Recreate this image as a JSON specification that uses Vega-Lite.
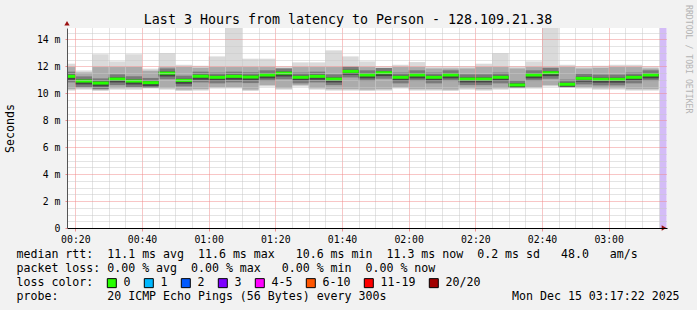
{
  "$schema": "https://vega.github.io/schema/vega-lite/v6.json",
  "autosize": {"type": "none"},
  "width": 600,
  "height": 200,
  "padding": {"left": 67, "top": 28, "right": 30, "bottom": 82},
  "background": "#f2f2f2",
  "view": {"fill": "white", "stroke": null},
  "title": {
    "text": "Last 3 Hours from latency to Person - 128.109.21.38",
    "font": "DejaVu Sans Mono",
    "fontSize": 13.3,
    "fontWeight": "normal",
    "color": "black",
    "anchor": "middle",
    "frame": "group",
    "baseline": "alphabetic",
    "dx": -19,
    "offset": -32.5
  },
  "datasets": {
    "smoke": [
      {"t":"2025-12-15T00:15:00Z","t2":"2025-12-15T00:20:00Z","loss":"0","med":11.26,"lo":10.2,"hi":12.2,"b1":10.3,"b2":11.95,"c1":10.81,"c2":11.61,"d1":11.01,"d2":11.38},
      {"t":"2025-12-15T00:20:00Z","t2":"2025-12-15T00:25:00Z","loss":"0","med":10.91,"lo":10.27,"hi":11.7,"b1":10.37,"b2":11.55,"c1":10.46,"c2":11.26,"d1":10.66,"d2":11.03},
      {"t":"2025-12-15T00:25:00Z","t2":"2025-12-15T00:30:00Z","loss":"0","med":10.76,"lo":10.17,"hi":12.9,"b1":10.27,"b2":11.95,"c1":10.31,"c2":11.11,"d1":10.51,"d2":10.88},
      {"t":"2025-12-15T00:30:00Z","t2":"2025-12-15T00:35:00Z","loss":"0","med":11.06,"lo":10.27,"hi":12.37,"b1":10.37,"b2":11.95,"c1":10.61,"c2":11.41,"d1":10.81,"d2":11.18},
      {"t":"2025-12-15T00:35:00Z","t2":"2025-12-15T00:40:00Z","loss":"0","med":10.91,"lo":10.27,"hi":12.9,"b1":10.37,"b2":11.95,"c1":10.46,"c2":11.26,"d1":10.66,"d2":11.03},
      {"t":"2025-12-15T00:40:00Z","t2":"2025-12-15T00:45:00Z","loss":"0","med":10.79,"lo":10.35,"hi":11.83,"b1":10.45,"b2":11.68,"c1":10.4,"c2":11.14,"d1":10.54,"d2":10.91},
      {"t":"2025-12-15T00:45:00Z","t2":"2025-12-15T00:50:00Z","loss":"0","med":11.5,"lo":10.27,"hi":12.99,"b1":10.37,"b2":11.95,"c1":11.05,"c2":11.85,"d1":11.25,"d2":11.62},
      {"t":"2025-12-15T00:50:00Z","t2":"2025-12-15T00:55:00Z","loss":"0","med":10.96,"lo":10.17,"hi":12.12,"b1":10.27,"b2":11.95,"c1":10.51,"c2":11.31,"d1":10.71,"d2":11.08},
      {"t":"2025-12-15T00:55:00Z","t2":"2025-12-15T01:00:00Z","loss":"0","med":11.26,"lo":10.2,"hi":12.05,"b1":10.3,"b2":11.9,"c1":10.81,"c2":11.61,"d1":11.01,"d2":11.38},
      {"t":"2025-12-15T01:00:00Z","t2":"2025-12-15T01:05:00Z","loss":"0","med":11.19,"lo":10.35,"hi":12.74,"b1":10.45,"b2":11.95,"c1":10.74,"c2":11.54,"d1":10.94,"d2":11.31},
      {"t":"2025-12-15T01:05:00Z","t2":"2025-12-15T01:10:00Z","loss":"0","med":11.26,"lo":10.35,"hi":14.85,"b1":10.45,"b2":11.95,"c1":10.81,"c2":11.61,"d1":11.01,"d2":11.38},
      {"t":"2025-12-15T01:10:00Z","t2":"2025-12-15T01:15:00Z","loss":"0","med":11.21,"lo":10.17,"hi":12.57,"b1":10.27,"b2":11.95,"c1":10.76,"c2":11.56,"d1":10.96,"d2":11.33},
      {"t":"2025-12-15T01:15:00Z","t2":"2025-12-15T01:20:00Z","loss":"0","med":11.36,"lo":10.5,"hi":12.57,"b1":10.6,"b2":11.95,"c1":10.91,"c2":11.71,"d1":11.11,"d2":11.48},
      {"t":"2025-12-15T01:20:00Z","t2":"2025-12-15T01:25:00Z","loss":"0","med":11.5,"lo":10.27,"hi":12.0,"b1":10.37,"b2":11.85,"c1":11.05,"c2":11.85,"d1":11.25,"d2":11.62},
      {"t":"2025-12-15T01:25:00Z","t2":"2025-12-15T01:30:00Z","loss":"0","med":11.19,"lo":10.5,"hi":12.3,"b1":10.6,"b2":11.95,"c1":10.74,"c2":11.54,"d1":10.94,"d2":11.31},
      {"t":"2025-12-15T01:30:00Z","t2":"2025-12-15T01:35:00Z","loss":"0","med":11.26,"lo":10.27,"hi":12.3,"b1":10.37,"b2":11.95,"c1":10.81,"c2":11.61,"d1":11.01,"d2":11.38},
      {"t":"2025-12-15T01:35:00Z","t2":"2025-12-15T01:40:00Z","loss":"0","med":11.06,"lo":10.2,"hi":13.19,"b1":10.3,"b2":11.95,"c1":10.61,"c2":11.41,"d1":10.81,"d2":11.18},
      {"t":"2025-12-15T01:40:00Z","t2":"2025-12-15T01:45:00Z","loss":"0","med":11.63,"lo":10.2,"hi":12.74,"b1":10.3,"b2":11.95,"c1":11.18,"c2":11.98,"d1":11.38,"d2":11.75},
      {"t":"2025-12-15T01:45:00Z","t2":"2025-12-15T01:50:00Z","loss":"0","med":11.36,"lo":10.17,"hi":12.37,"b1":10.27,"b2":11.95,"c1":10.91,"c2":11.71,"d1":11.11,"d2":11.48},
      {"t":"2025-12-15T01:50:00Z","t2":"2025-12-15T01:55:00Z","loss":"0","med":11.53,"lo":10.2,"hi":12.0,"b1":10.3,"b2":11.85,"c1":11.08,"c2":11.88,"d1":11.28,"d2":11.65},
      {"t":"2025-12-15T01:55:00Z","t2":"2025-12-15T02:00:00Z","loss":"0","med":11.19,"lo":10.35,"hi":12.12,"b1":10.45,"b2":11.95,"c1":10.74,"c2":11.54,"d1":10.94,"d2":11.31},
      {"t":"2025-12-15T02:00:00Z","t2":"2025-12-15T02:05:00Z","loss":"0","med":11.36,"lo":10.2,"hi":12.32,"b1":10.3,"b2":11.95,"c1":10.91,"c2":11.71,"d1":11.11,"d2":11.48},
      {"t":"2025-12-15T02:05:00Z","t2":"2025-12-15T02:10:00Z","loss":"0","med":11.19,"lo":10.2,"hi":12.0,"b1":10.3,"b2":11.85,"c1":10.74,"c2":11.54,"d1":10.94,"d2":11.31},
      {"t":"2025-12-15T02:10:00Z","t2":"2025-12-15T02:15:00Z","loss":"0","med":11.36,"lo":10.17,"hi":12.0,"b1":10.27,"b2":11.85,"c1":10.91,"c2":11.71,"d1":11.11,"d2":11.48},
      {"t":"2025-12-15T02:15:00Z","t2":"2025-12-15T02:20:00Z","loss":"0","med":11.06,"lo":10.27,"hi":12.0,"b1":10.37,"b2":11.85,"c1":10.61,"c2":11.41,"d1":10.81,"d2":11.18},
      {"t":"2025-12-15T02:20:00Z","t2":"2025-12-15T02:25:00Z","loss":"0","med":11.06,"lo":10.2,"hi":12.2,"b1":10.3,"b2":11.95,"c1":10.61,"c2":11.41,"d1":10.81,"d2":11.18},
      {"t":"2025-12-15T02:25:00Z","t2":"2025-12-15T02:30:00Z","loss":"0","med":11.19,"lo":10.27,"hi":12.99,"b1":10.37,"b2":11.95,"c1":10.74,"c2":11.54,"d1":10.94,"d2":11.31},
      {"t":"2025-12-15T02:30:00Z","t2":"2025-12-15T02:35:00Z","loss":"0","med":10.62,"lo":10.35,"hi":12.0,"b1":10.45,"b2":11.85,"c1":10.4,"c2":10.97,"d1":10.45,"d2":10.74},
      {"t":"2025-12-15T02:35:00Z","t2":"2025-12-15T02:40:00Z","loss":"0","med":11.36,"lo":10.35,"hi":12.37,"b1":10.45,"b2":11.95,"c1":10.91,"c2":11.71,"d1":11.11,"d2":11.48},
      {"t":"2025-12-15T02:40:00Z","t2":"2025-12-15T02:45:00Z","loss":"0","med":11.53,"lo":10.5,"hi":14.85,"b1":10.6,"b2":11.95,"c1":11.08,"c2":11.88,"d1":11.28,"d2":11.65},
      {"t":"2025-12-15T02:45:00Z","t2":"2025-12-15T02:50:00Z","loss":"0","med":10.67,"lo":10.42,"hi":12.12,"b1":10.5,"b2":11.95,"c1":10.45,"c2":11.02,"d1":10.5,"d2":10.79},
      {"t":"2025-12-15T02:50:00Z","t2":"2025-12-15T02:55:00Z","loss":"0","med":11.11,"lo":10.35,"hi":12.0,"b1":10.45,"b2":11.85,"c1":10.66,"c2":11.46,"d1":10.86,"d2":11.23},
      {"t":"2025-12-15T02:55:00Z","t2":"2025-12-15T03:00:00Z","loss":"0","med":11.04,"lo":10.27,"hi":12.05,"b1":10.37,"b2":11.9,"c1":10.59,"c2":11.39,"d1":10.79,"d2":11.16},
      {"t":"2025-12-15T03:00:00Z","t2":"2025-12-15T03:05:00Z","loss":"0","med":11.04,"lo":10.27,"hi":12.12,"b1":10.37,"b2":11.95,"c1":10.59,"c2":11.39,"d1":10.79,"d2":11.16},
      {"t":"2025-12-15T03:05:00Z","t2":"2025-12-15T03:10:00Z","loss":"0","med":11.19,"lo":10.2,"hi":12.12,"b1":10.3,"b2":11.95,"c1":10.74,"c2":11.54,"d1":10.94,"d2":11.31},
      {"t":"2025-12-15T03:10:00Z","t2":"2025-12-15T03:15:00Z","loss":"0","med":11.36,"lo":10.2,"hi":12.0,"b1":10.3,"b2":11.85,"c1":10.91,"c2":11.71,"d1":11.11,"d2":11.48}
    ],
    "nodata": [
      {"t":"2025-12-15T03:15:20Z","t2":"2025-12-15T03:17:22Z"}
    ]
  },
  "layer": [
    {
      "data": {"name": "smoke"},
      "mark": {"type": "rect", "color": "#dadada", "clip": true},
      "encoding": {
        "x": {
          "field": "t", "type": "temporal",
          "scale": {"type": "utc", "domain": [{"year": 2025, "month": 12, "date": 15, "hours": 0, "minutes": 17, "seconds": 30, "utc": true}, {"year": 2025, "month": 12, "date": 15, "hours": 3, "minutes": 17, "seconds": 30, "utc": true}]},
          "axis": {
            "orient": "bottom", "zindex": 1, "tickCount": 200,
            "values": [1765758000000, 1765758300000, 1765758600000, 1765758900000, 1765759200000, 1765759500000, 1765759800000, 1765760100000, 1765760400000, 1765760700000, 1765761000000, 1765761300000, 1765761600000, 1765761900000, 1765762200000, 1765762500000, 1765762800000, 1765763100000, 1765763400000, 1765763700000, 1765764000000, 1765764300000, 1765764600000, 1765764900000, 1765765200000, 1765765500000, 1765765800000, 1765766100000, 1765766400000, 1765766700000, 1765767000000, 1765767300000, 1765767600000, 1765767900000, 1765768200000, 1765768500000],
            "labelExpr": "utcminutes(datum.value) % 20 == 0 ? utcFormat(datum.value, '%H:%M') : ''",
            "labelFont": "DejaVu Sans Mono", "labelFontSize": 9.8, "labelColor": "black",
            "labelPadding": 3, "labelFlush": false, "labelOverlap": false,
            "ticks": true, "tickSize": 3,
            "tickColor": {"condition": {"test": "utcminutes(datum.value) % 20 == 0", "value": "#f08c8c"}, "value": "#c0c0c0"},
            "tickOpacity": {"condition": {"test": "utcminutes(datum.value) % 20 == 0", "value": 1}, "value": 0},
            "domain": true, "domainColor": "black", "domainWidth": 1,
            "grid": true, "gridDash": [1, 1], "gridWidth": 1,
            "gridColor": {"condition": {"test": "utcminutes(datum.value) % 20 == 0", "value": "#f08c8c"}, "value": "#c8c8c8"},
            "title": [
              "median\u00a0rtt:\u00a0\u00a011.1\u00a0ms\u00a0avg\u00a0\u00a011.6\u00a0ms\u00a0max\u00a0\u00a0\u00a010.6\u00a0ms\u00a0min\u00a0\u00a011.3\u00a0ms\u00a0now\u00a0\u00a00.2\u00a0ms\u00a0sd\u00a0\u00a0\u00a048.0\u00a0\u00a0\u00a0am/s",
              "packet\u00a0loss:\u00a00.00\u00a0%\u00a0avg\u00a0\u00a00.00\u00a0%\u00a0max\u00a0\u00a0\u00a00.00\u00a0%\u00a0min\u00a0\u00a00.00\u00a0%\u00a0now",
              "loss\u00a0color:",
              "probe:\u00a0\u00a0\u00a0\u00a0\u00a0\u00a0\u00a020\u00a0ICMP\u00a0Echo\u00a0Pings\u00a0(56\u00a0Bytes)\u00a0every\u00a0300s\u00a0\u00a0\u00a0\u00a0\u00a0\u00a0\u00a0\u00a0\u00a0\u00a0\u00a0\u00a0\u00a0\u00a0\u00a0\u00a0\u00a0\u00a0Mon\u00a0Dec\u00a015\u00a003:17:22\u00a02025"
            ],
            "titleFont": "DejaVu Sans Mono", "titleFontSize": 11.6, "titleFontWeight": "normal", "titleColor": "black",
            "titleAlign": "left", "titleBaseline": "top", "titleLineHeight": 14,
            "titleX": -51, "titleY": 20
          }
        },
        "x2": {"field": "t2"},
        "y": {
          "field": "lo", "type": "quantitative",
          "scale": {"domain": [0, 14.85], "nice": false, "zero": true},
          "axis": {
            "orient": "left", "zindex": 1, "tickCount": 200,
            "values": [0, 0.5, 1, 1.5, 2, 2.5, 3, 3.5, 4, 4.5, 5, 5.5, 6, 6.5, 7, 7.5, 8, 8.5, 9, 9.5, 10, 10.5, 11, 11.5, 12, 12.5, 13, 13.5, 14, 14.5],
            "labelExpr": "datum.value % 2 == 0 ? (datum.value == 0 ? '0' : datum.value + ' m') : ''",
            "labelFont": "DejaVu Sans Mono", "labelFontSize": 9.8, "labelColor": "black", "labelPadding": 5, "labelOverlap": false,
            "ticks": true, "tickSize": 2,
            "tickColor": {"condition": {"test": "datum.value % 2 == 0", "value": "#f08c8c"}, "value": "#c0c0c0"},
            "tickOpacity": {"condition": {"test": "datum.value % 2 == 0", "value": 1}, "value": 0},
            "domain": true, "domainColor": "#555555", "domainWidth": 1,
            "grid": true, "gridDash": [1, 1], "gridWidth": 1,
            "gridColor": {"condition": {"test": "datum.value % 2 == 0", "value": "#f08c8c"}, "value": "#c8c8c8"},
            "title": "Seconds",
            "titleFont": "DejaVu Sans Mono", "titleFontSize": 11.6, "titleFontWeight": "normal", "titleColor": "black",
            "titleAngle": 270, "titleAlign": "center", "titleBaseline": "middle",
            "titleX": -57, "titleY": 100
          }
        },
        "y2": {"field": "hi"}
      }
    },
    {
      "data": {"name": "smoke"},
      "mark": {"type": "rect", "color": "#ababab", "clip": true},
      "encoding": {
        "x": {"field": "t", "type": "temporal"},
        "x2": {"field": "t2"},
        "y": {"field": "b1", "type": "quantitative"},
        "y2": {"field": "b2"}
      }
    },
    {
      "data": {"name": "smoke"},
      "mark": {"type": "rect", "color": "#7a7a7a", "clip": true},
      "encoding": {
        "x": {"field": "t", "type": "temporal"},
        "x2": {"field": "t2"},
        "y": {"field": "c1", "type": "quantitative"},
        "y2": {"field": "c2"}
      }
    },
    {
      "data": {"name": "smoke"},
      "mark": {"type": "rect", "color": "#444444", "clip": true},
      "encoding": {
        "x": {"field": "t", "type": "temporal"},
        "x2": {"field": "t2"},
        "y": {"field": "d1", "type": "quantitative"},
        "y2": {"field": "d2"}
      }
    },
    {
      "data": {"name": "nodata"},
      "mark": {"type": "rect", "color": "#d4bcf7", "clip": true},
      "encoding": {
        "x": {"field": "t", "type": "temporal"},
        "x2": {"field": "t2"}
      }
    },
    {
      "data": {"name": "smoke"},
      "mark": {"type": "tick", "orient": "horizontal", "thickness": 3, "size": 16.67, "xOffset": 8.33, "clip": true, "opacity": 1},
      "encoding": {
        "x": {"field": "t", "type": "temporal"},
        "y": {"field": "med", "type": "quantitative"},
        "color": {
          "field": "loss", "type": "nominal",
          "scale": {
            "domain": ["0", "1", "2", "3", "4-5", "6-10", "11-19", "20/20"],
            "range": ["#26ff00", "#00b8ff", "#0059ff", "#7e00ff", "#ff00ff", "#ff5500", "#ff0000", "#a10000"]
          },
          "legend": {
            "orient": "none", "legendX": 39, "legendY": 249, "direction": "horizontal",
            "title": null, "padding": 0,
            "symbolType": "square", "symbolSize": 81, "symbolStrokeWidth": 1, "symbolStrokeColor": "black", "symbolOpacity": 1,
            "labelFont": "DejaVu Sans Mono", "labelFontSize": 11.6, "labelColor": "black", "labelOffset": 6, "labelLimit": 0,
            "columnPadding": 11
          }
        }
      }
    },
    {
      "data": {"values": [{"label": "RRDTOOL / TOBI OETIKER"}]},
      "mark": {"type": "text", "angle": 90, "align": "left", "baseline": "middle", "font": "DejaVu Sans Mono", "fontSize": 8.2, "color": "#b4b4b4", "clip": false},
      "encoding": {
        "x": {"datum": {"year": 2025, "month": 12, "date": 15, "hours": 3, "minutes": 23, "seconds": 42, "utc": true}, "type": "temporal"},
        "y": {"datum": 16.56, "type": "quantitative"},
        "text": {"field": "label"}
      }
    },
    {
      "data": {"values": [{"arrow": "y"}]},
      "mark": {"type": "point", "shape": "triangle-up", "filled": true, "size": 28, "color": "#9b1010", "opacity": 1, "clip": false},
      "encoding": {
        "x": {"datum": {"year": 2025, "month": 12, "date": 15, "hours": 0, "minutes": 17, "seconds": 30, "utc": true}, "type": "temporal"},
        "y": {"datum": 15.2, "type": "quantitative"}
      }
    },
    {
      "data": {"values": [{"arrow": "x"}]},
      "mark": {"type": "point", "shape": "triangle-right", "filled": true, "size": 28, "color": "#9b1010", "opacity": 1, "clip": false},
      "encoding": {
        "x": {"datum": {"year": 2025, "month": 12, "date": 15, "hours": 3, "minutes": 16, "seconds": 36, "utc": true}, "type": "temporal"},
        "y": {"datum": 0, "type": "quantitative"}
      }
    }
  ]
}
